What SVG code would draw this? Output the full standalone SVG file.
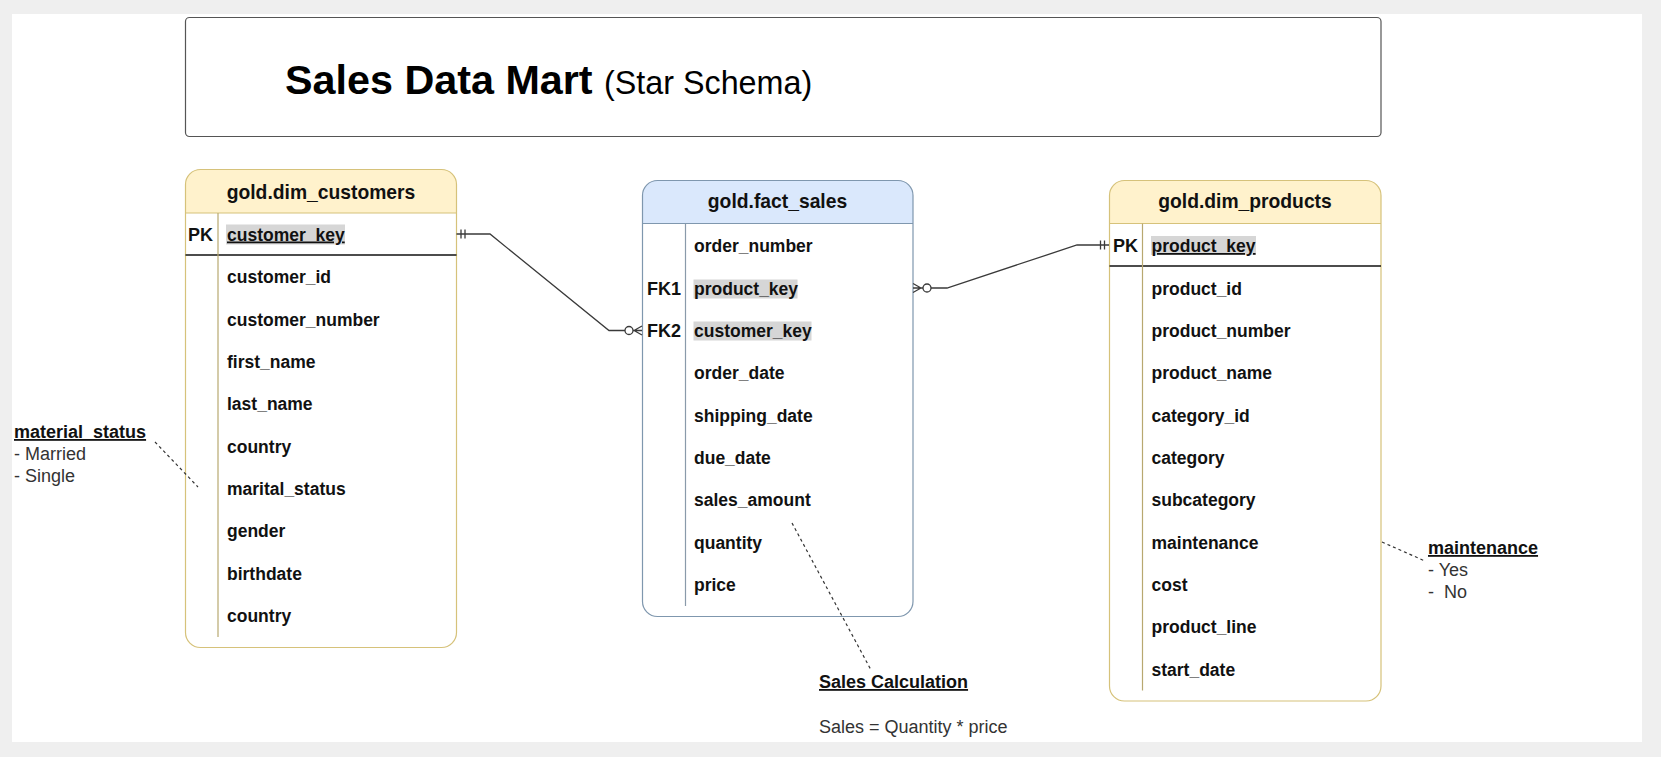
<svg xmlns="http://www.w3.org/2000/svg" width="1661" height="757" viewBox="0 0 1661 757">
<style>
.field{font-family:"Liberation Sans",Arial,sans-serif;font-size:17.5px;font-weight:bold;fill:#111}
.key{font-family:"Liberation Sans",Arial,sans-serif;font-size:18px;font-weight:bold;fill:#111}
.hdr{font-family:"Liberation Sans",Arial,sans-serif;font-size:19.3px;font-weight:bold;fill:#111;text-anchor:middle}
.note{font-family:"Liberation Sans",Arial,sans-serif;font-size:18px;fill:#333}
.noteb{font-family:"Liberation Sans",Arial,sans-serif;font-size:18px;font-weight:bold;fill:#111;text-decoration:underline}
.ybox{fill:none;stroke:#d6c27a;stroke-width:1.2}
.bbox{fill:none;stroke:#7f97ae;stroke-width:1.2}
.hl{fill:#d6d6d6}
.conn{fill:none;stroke:#3a3a3a;stroke-width:1.3}
.dash{fill:none;stroke:#333;stroke-width:1.2;stroke-dasharray:3 3}
</style>
<rect x="0" y="0" width="1661" height="757" fill="#efefef"/>
<rect x="12" y="14" width="1630" height="728" fill="#ffffff"/>

<g id="title">
<rect x="185.5" y="17.5" width="1195.5" height="119" rx="4" fill="#fff" stroke="#555" stroke-width="1.2"/>
<text x="285" y="94" font-family="'Liberation Sans',Arial,sans-serif" fill="#000"><tspan font-size="41.3" font-weight="bold">Sales Data Mart</tspan><tspan x="604" font-size="32.3">(Star Schema)</tspan></text>
</g>

<g id="dim_customers">
<rect x="185.5" y="169.5" width="271" height="478" rx="15" fill="#fff"/>
<path d="M185.5,213 V184.5 A15,15 0 0 1 200.5,169.5 H441.5 A15,15 0 0 1 456.5,184.5 V213 Z" fill="#fff2cc"/>
<rect x="185.5" y="169.5" width="271" height="478" rx="15" class="ybox"/>
<line x1="185.5" y1="213" x2="456.5" y2="213" stroke="#d6c27a" stroke-width="1.2"/>
<line x1="185.5" y1="255" x2="456.5" y2="255" stroke="#111" stroke-width="1.3"/>
<line x1="218" y1="213" x2="218" y2="637" stroke="#b8a870" stroke-width="1.2"/>
<text x="321" y="198.5" class="hdr">gold.dim_customers</text>
<text x="188" y="240.5" class="key">PK</text>
<rect x="226" y="224.5" width="119" height="20" class="hl"/>
<text x="227" y="240.5" class="field" text-decoration="underline">customer_key</text>
<text x="227" y="283" class="field">customer_id</text>
<text x="227" y="325.5" class="field">customer_number</text>
<text x="227" y="367.5" class="field">first_name</text>
<text x="227" y="410" class="field">last_name</text>
<text x="227" y="452.5" class="field">country</text>
<text x="227" y="494.5" class="field">marital_status</text>
<text x="227" y="537" class="field">gender</text>
<text x="227" y="579.5" class="field">birthdate</text>
<text x="227" y="622" class="field">country</text>
</g>

<g id="fact_sales">
<rect x="642.5" y="180.5" width="270.5" height="436" rx="15" fill="#fff"/>
<path d="M642.5,223.5 V195.5 A15,15 0 0 1 657.5,180.5 H898 A15,15 0 0 1 913,195.5 V223.5 Z" fill="#dae8fc"/>
<rect x="642.5" y="180.5" width="270.5" height="436" rx="15" class="bbox"/>
<line x1="642.5" y1="223.5" x2="913" y2="223.5" stroke="#7f97ae" stroke-width="1.2"/>
<line x1="685.5" y1="223.5" x2="685.5" y2="606" stroke="#8a9aaa" stroke-width="1.2"/>
<text x="777.5" y="208" class="hdr">gold.fact_sales</text>
<text x="694" y="252" class="field">order_number</text>
<text x="647" y="294.5" class="key">FK1</text>
<rect x="693.5" y="279.5" width="104" height="19" class="hl"/>
<text x="694" y="294.5" class="field">product_key</text>
<text x="647" y="337" class="key">FK2</text>
<rect x="693.5" y="321.5" width="118" height="19" class="hl"/>
<text x="694" y="337" class="field">customer_key</text>
<text x="694" y="379" class="field">order_date</text>
<text x="694" y="421.5" class="field">shipping_date</text>
<text x="694" y="464" class="field">due_date</text>
<text x="694" y="506" class="field">sales_amount</text>
<text x="694" y="548.5" class="field">quantity</text>
<text x="694" y="591" class="field">price</text>
</g>

<g id="dim_products">
<rect x="1109.5" y="180.5" width="271.5" height="520.5" rx="15" fill="#fff"/>
<path d="M1109.5,223.5 V195.5 A15,15 0 0 1 1124.5,180.5 H1366 A15,15 0 0 1 1381,195.5 V223.5 Z" fill="#fff2cc"/>
<rect x="1109.5" y="180.5" width="271.5" height="520.5" rx="15" class="ybox"/>
<line x1="1109.5" y1="223.5" x2="1381" y2="223.5" stroke="#d6c27a" stroke-width="1.2"/>
<line x1="1109.5" y1="266" x2="1381" y2="266" stroke="#111" stroke-width="1.3"/>
<line x1="1142.5" y1="223.5" x2="1142.5" y2="690.5" stroke="#b8a870" stroke-width="1.2"/>
<text x="1245" y="208" class="hdr">gold.dim_products</text>
<text x="1113" y="252" class="key">PK</text>
<rect x="1151" y="236" width="105" height="19" class="hl"/>
<text x="1151.5" y="252" class="field" text-decoration="underline">product_key</text>
<text x="1151.5" y="294.5" class="field">product_id</text>
<text x="1151.5" y="337" class="field">product_number</text>
<text x="1151.5" y="379" class="field">product_name</text>
<text x="1151.5" y="421.5" class="field">category_id</text>
<text x="1151.5" y="464" class="field">category</text>
<text x="1151.5" y="506" class="field">subcategory</text>
<text x="1151.5" y="548.5" class="field">maintenance</text>
<text x="1151.5" y="591" class="field">cost</text>
<text x="1151.5" y="633" class="field">product_line</text>
<text x="1151.5" y="675.5" class="field">start_date</text>
</g>

<g id="connectors">
<path class="conn" d="M456.5,234 H490 L609,330.5 H625"/>
<path class="conn" d="M461,229.5 V238.5 M465,229.5 V238.5"/>
<circle cx="629" cy="330.5" r="4" fill="#fff" stroke="#3a3a3a" stroke-width="1.3"/>
<path class="conn" d="M633,330.5 H642 M634,330.5 L642,326 M634,330.5 L642,335"/>
<path class="conn" d="M931,288 H947 L1077,245 H1109"/>
<path class="conn" d="M1100.5,240.5 V249.5 M1104.5,240.5 V249.5"/>
<circle cx="927" cy="288" r="4" fill="#fff" stroke="#3a3a3a" stroke-width="1.3"/>
<path class="conn" d="M913,288 H923 M921,288 L913,283.5 M921,288 L913,292.5"/>
<path class="dash" d="M155,442 L198,487"/>
<path class="dash" d="M1382,542 L1425,561"/>
<path class="dash" d="M792,523 L871,670"/>
</g>

<g id="note_marital">
<text x="14" y="438" class="noteb">material_status</text>
<text x="14" y="460" class="note">- Married</text>
<text x="14" y="482" class="note">- Single</text>
</g>

<g id="note_maintenance">
<text x="1428" y="554" class="noteb">maintenance</text>
<text x="1428" y="576" class="note">- Yes</text>
<text x="1428" y="598" class="note">-&#160; No</text>
</g>

<g id="note_sales">
<text x="819" y="688" class="noteb">Sales Calculation</text>
<text x="819" y="733" class="note">Sales = Quantity * price</text>
</g>
</svg>
